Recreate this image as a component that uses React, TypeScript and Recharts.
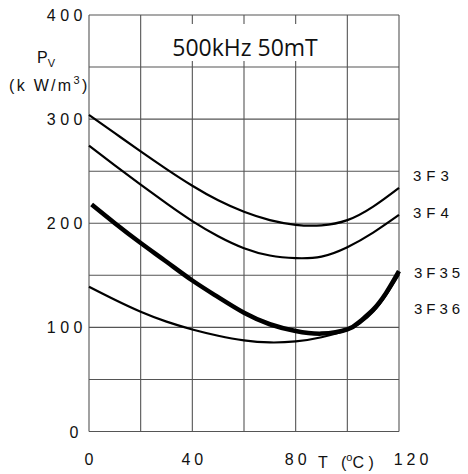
import React from 'react';
import { LineChart, Line, XAxis, YAxis, CartesianGrid, Customized } from 'recharts';

const t3F3 = [0, 10, 20, 30, 40, 50, 60, 70, 80, 90, 100, 110, 120];
const p3F3 = [304, 286.5, 269, 252, 236, 222, 211, 203, 198.5, 198, 203, 216, 234];

const t3F4 = [0, 10, 20, 30, 40, 50, 60, 70, 80, 90, 100, 110, 120];
const p3F4 = [274.5, 255.5, 237, 219, 202, 187.5, 176, 169, 166.5, 168, 177, 191, 208];

const t3F35 = [1, 10, 20, 30, 40, 50, 60, 70, 80, 90, 100, 105, 110, 115, 120];
const p3F35 = [218, 200, 181, 163, 145, 129, 114, 103, 96.5, 94, 98, 106, 117, 133, 154];

const t3F36 = [0, 10, 20, 30, 40, 50, 60, 70, 80, 90, 100, 105, 110, 115, 120];
const p3F36 = [139, 126.5, 115, 105.5, 98, 92, 87.5, 85.5, 86.5, 90.5, 97.5, 104, 115, 131, 151];

const xTicks = [0, 20, 40, 60, 80, 100, 120];
const xLabels = ['0', '', '40', '', '80', '', '120'];
const yTicks = [0, 50, 100, 150, 200, 250, 300, 350, 400];
const yLabels = ['0', '', '100', '', '200', '', '300', '', '400'];

const seriesNames = ['3F3', '3F4', '3F35', '3F36'];
const title = '500kHz 50mT';

const build = (ts: number[], ps: number[]) => ts.map((t, i) => ({ T: t, P: ps[i] }));
const d3F3 = build(t3F3, p3F3);
const d3F4 = build(t3F4, p3F4);
const d3F35 = build(t3F35, p3F35);
const d3F36 = build(t3F36, p3F36);

const FONT = '"Liberation Sans", Arial, sans-serif';

const XTick = (props: any) => {
  const { x, y, payload } = props;
  const idx = xTicks.indexOf(payload.value);
  const label = xLabels[idx];
  if (!label) return null;
  const shift = payload.value === 120 ? 14 : 2;
  return (
    <text x={x + shift} y={y + 25} textAnchor="middle" fontFamily={FONT} fontSize={16} letterSpacing={4} fill="#111">
      {label}
    </text>
  );
};

const YTick = (props: any) => {
  const { y, payload } = props;
  const idx = yTicks.indexOf(payload.value);
  const label = yLabels[idx];
  if (!label) return null;
  const xr = payload.value === 0 ? 83 : 87;
  return (
    <text x={xr} y={y + 6} textAnchor="end" fontFamily={FONT} fontSize={16} letterSpacing={4.5} fill="#111">
      {label}
    </text>
  );
};

const Overlay = () => (
  <g>
    <rect x={163} y={24} width={164} height={37} fill="#fff" />
    <text x={245} y={56} textAnchor="middle" fontFamily='"Open Sans", sans-serif' fontSize={23} fill="#111">
      {title}
    </text>
    <text x={37} y={63} fontFamily={FONT} fontSize={16} fill="#111">
      P<tspan fontSize={11} dy={4}>V</tspan>
    </text>
    <text x={9} y={91} fontFamily={FONT} fontSize={16} letterSpacing={2.3} fill="#111">
      (k W/m<tspan fontSize={11} dy={-7}>3</tspan><tspan dy={7}>)</tspan>
    </text>
    <text x={318} y={468} fontFamily={FONT} fontSize={16} fill="#111">T</text>
    <text x={341} y={468} fontFamily={FONT} fontSize={16} fill="#111">
      (<tspan fontSize={11} dy={-7}>o</tspan><tspan dy={7}>C )</tspan>
    </text>
    <text x={413} y={181} fontFamily={FONT} fontSize={15} letterSpacing={5} fill="#111">{seriesNames[0]}</text>
    <text x={413} y={218} fontFamily={FONT} fontSize={15} letterSpacing={5} fill="#111">{seriesNames[1]}</text>
    <text x={414} y={278} fontFamily={FONT} fontSize={15} letterSpacing={4} fill="#111">{seriesNames[2]}</text>
    <text x={414} y={314} fontFamily={FONT} fontSize={15} letterSpacing={4} fill="#111">{seriesNames[3]}</text>
  </g>
);

export default function App() {
  return (
    <div style={{ position: 'absolute', left: 0, top: 0, width: 468, height: 474, background: '#fff' }}>
      <LineChart width={468} height={474} margin={{ top: 15, right: 69, bottom: 12.5, left: 29 }}>
        <CartesianGrid stroke="#555" strokeWidth={1.1} />
        <XAxis
          dataKey="T"
          type="number"
          domain={[0, 120]}
          ticks={xTicks}
          allowDuplicatedCategory={false}
          axisLine={false}
          tickLine={false}
          tick={<XTick />}
          height={30}
          interval={0}
        />
        <YAxis
          type="number"
          domain={[0, 400]}
          ticks={yTicks}
          axisLine={false}
          tickLine={false}
          tick={<YTick />}
          width={60}
          interval={0}
        />
        <Line data={d3F3} dataKey="P" type="natural" stroke="#000" strokeWidth={2.2} dot={false} isAnimationActive={false} />
        <Line data={d3F4} dataKey="P" type="natural" stroke="#000" strokeWidth={2.2} dot={false} isAnimationActive={false} />
        <Line data={d3F35} dataKey="P" type="natural" stroke="#000" strokeWidth={4.5} dot={false} isAnimationActive={false} />
        <Line data={d3F36} dataKey="P" type="natural" stroke="#000" strokeWidth={2.2} dot={false} isAnimationActive={false} />
        <Customized component={Overlay} />
      </LineChart>
    </div>
  );
}
